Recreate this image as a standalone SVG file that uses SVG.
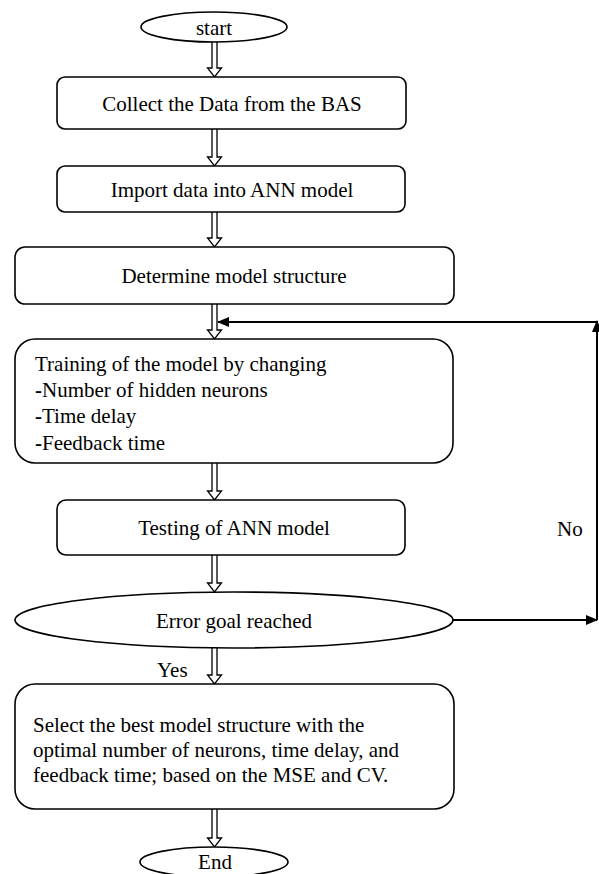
<svg xmlns="http://www.w3.org/2000/svg" width="599" height="874" viewBox="0 0 599 874">
<defs>
<marker id="ah" markerWidth="12" markerHeight="10" refX="11" refY="5" orient="auto" markerUnits="userSpaceOnUse">
<path d="M0,0 L12,5 L0,10 Z" fill="#000"/>
</marker>
</defs>
<style>
.box{fill:#fff;stroke:#000;stroke-width:1.6}
.t{font-family:"Liberation Serif","Times New Roman",serif;font-size:21px;fill:#000}
.c{text-anchor:middle}
.da{fill:#fff;stroke:#000;stroke-width:1.3;stroke-linejoin:miter}
.ln{fill:none;stroke:#000;stroke-width:2}
</style>
<rect width="599" height="874" fill="#fff"/>
<g id="connectors">
<path class="da" d="M212,42 V68 H207.5 L214.5,77 L221.5,68 H217 V42"/>
<path class="da" d="M212,129 V157 H207.5 L214.5,166 L221.5,157 H217 V129"/>
<path class="da" d="M212,212 V238 H207.5 L214.5,247 L221.5,238 H217 V212"/>
<path class="da" d="M212,304 V330 H207.5 L214.5,339 L221.5,330 H217 V304"/>
<path class="da" d="M212,463 V491 H207.5 L214.5,500 L221.5,491 H217 V463"/>
<path class="da" d="M212,555 V583 H207.5 L214.5,592 L221.5,583 H217 V555"/>
<path class="da" d="M212,648 V675 H207.5 L214.5,684 L221.5,675 H217 V648"/>
<path class="da" d="M212,809 V838 H207.5 L214.5,847 L221.5,838 H217 V809"/>
<line class="ln" x1="453" y1="620" x2="597" y2="620" marker-end="url(#ah)"/>
<line class="ln" x1="597" y1="620" x2="597" y2="321" marker-end="url(#ah)"/>
<line class="ln" x1="597" y1="322" x2="218" y2="322" marker-end="url(#ah)"/>
<text class="t" x="557" y="536">No</text>
<text class="t" x="157" y="677">Yes</text>
</g>
<g id="start">
<ellipse class="box" cx="214" cy="27" rx="73" ry="15"/>
<text class="t c" x="214" y="35">start</text>
</g>
<g id="collect">
<rect class="box" x="57" y="77" width="349" height="52" rx="8"/>
<text class="t c" x="232" y="111">Collect the Data from the BAS</text>
</g>
<g id="import">
<rect class="box" x="57" y="166" width="348" height="46" rx="8"/>
<text class="t c" x="232" y="197">Import data into ANN model</text>
</g>
<g id="determine">
<rect class="box" x="15" y="247" width="439" height="57" rx="10"/>
<text class="t c" x="234" y="283">Determine model structure</text>
</g>
<g id="training">
<rect class="box" x="15" y="339" width="438" height="124" rx="20"/>
<text class="t" x="35" y="371">Training of the model by changing</text>
<text class="t" x="35" y="397"><tspan font-weight="bold">-</tspan>Number of hidden neurons</text>
<text class="t" x="35" y="423"><tspan font-weight="bold">-</tspan>Time delay</text>
<text class="t" x="35" y="450"><tspan font-weight="bold">-</tspan>Feedback time</text>
</g>
<g id="testing">
<rect class="box" x="57" y="500" width="348" height="55" rx="9"/>
<text class="t c" x="234" y="535">Testing of ANN model</text>
</g>
<g id="error">
<ellipse class="box" cx="234" cy="620" rx="219" ry="28"/>
<text class="t c" x="234" y="628">Error goal reached</text>
</g>
<g id="select">
<rect class="box" x="15" y="684" width="439" height="125" rx="20"/>
<text class="t" x="33" y="732">Select the best model structure with the</text>
<text class="t" x="33" y="757">optimal number of neurons, time delay, and</text>
<text class="t" x="33" y="782">feedback time; based on the MSE and CV.</text>
</g>
<g id="end">
<ellipse class="box" cx="214" cy="862" rx="74" ry="15"/>
<text class="t c" x="215" y="869">End</text>
</g>
</svg>
